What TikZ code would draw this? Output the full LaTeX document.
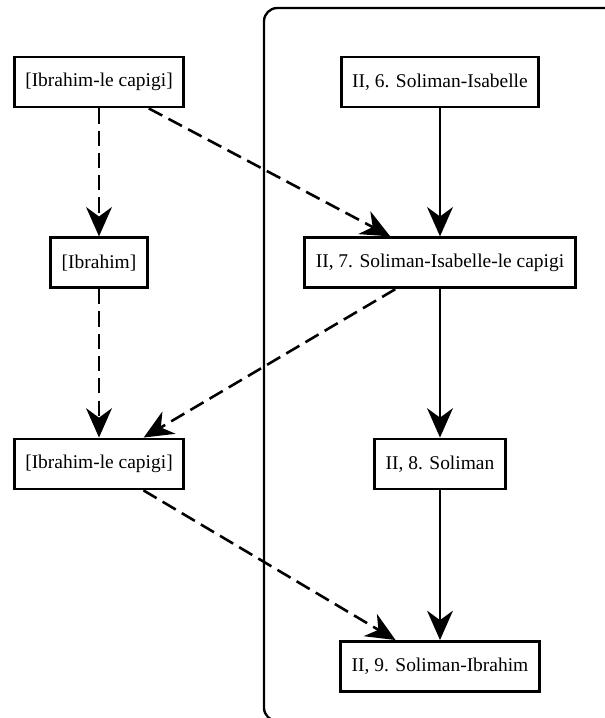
\documentclass[tikz,border=0pt]{standalone}
\usepackage{fontspec}
\setmainfont{Liberation Serif}
\usetikzlibrary{arrows.meta, positioning}

\begin{document}
\begin{tikzpicture}[node distance=4.45cm and 1cm,
    scene/.style={rectangle, minimum height=1.5cm, inner xsep=0.33cm, text centered, draw=black, line width=2.4pt, font=\fontsize{16.6}{20}\selectfont},
    solidarrow/.style={line width=2.2pt, -{Stealth[length=25pt, width=22pt, inset=8pt]}},
    dasharrow/.style={solidarrow, dash pattern=on 13pt off 6pt},
    frame/.style={line width=2pt, rounded corners=0.4cm}
    ]
    \useasboundingbox (-2.97,2.46) rectangle (15.15,-19.08);

    % Act II, scenes on stage
    \node (a) [scene] {[Ibrahim-le capigi]};
    \node (b) [scene, below=3.84cm of a] {[Ibrahim]};
    \node (c) [scene, below=of b] {[Ibrahim-le capigi]};

    \node (n6) [scene] at ([xshift=10.23cm]a.center) {II, 6. Soliman-Isabelle};
    \node (n7) [scene, below=3.84cm of n6] {II, 7. Soliman-Isabelle-le capigi};
    \node (n8) [scene, below=of n7] {II, 8. Soliman};
    \node (n9) [scene, below=4.49cm of n8] {II, 9. Soliman-Ibrahim};

    % Frame
    \draw [frame] (4.95,2.22) rectangle (16,-19.17);

    % Arrows - off stage
    \draw [dasharrow] (a) -- (b);
    \draw [dasharrow] (b) -- (c);
    \draw [dasharrow] (a) -- (n7);
    \draw [dasharrow] (n7) -- (c);
    \draw [dasharrow] (c) -- (n9);

    % Arrows - on stage
    \draw [solidarrow] (n6) -- (n7);
    \draw [solidarrow] (n7) -- (n8);
    \draw [solidarrow] (n8) -- (n9);
\end{tikzpicture}
\end{document}
